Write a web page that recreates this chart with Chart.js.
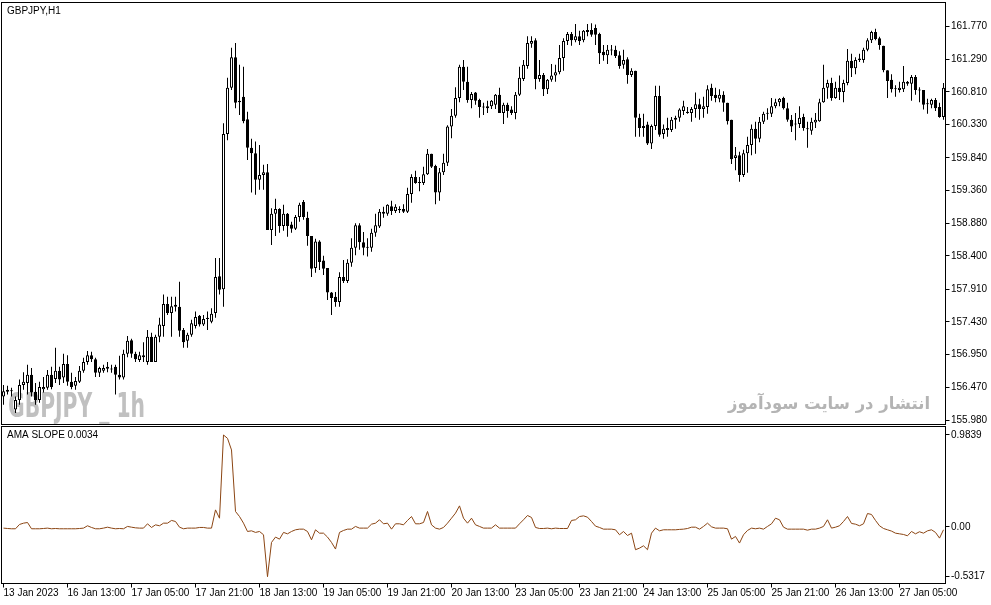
<!DOCTYPE html>
<html>
<head>
<meta charset="utf-8">
<script src="https://cdn.jsdelivr.net/npm/chart.js@4.4.0/dist/chart.umd.min.js"></script>
<style>
  html, body { margin: 0; padding: 0; background: #fff; }
  #wrap { position: relative; width: 991px; height: 605px; overflow: hidden; background: #fff; }
  #wrap canvas { position: absolute; left: 0; }
  #main { top: 0; }
  #sub { top: 424px; }
</style>
</head>
<body>
<div id="wrap">
  <canvas id="main" width="991" height="426" style="width:991px;height:426px"></canvas>
  <canvas id="sub" width="991" height="181" style="width:991px;height:181px"></canvas>
</div>
<script>
// GBPJPY H1, 13 Jan 2023 - 27 Jan 2023, one entry per hourly bar
const timeLabels = ["13 Jan 2023", "16 Jan 13:00", "17 Jan 05:00", "17 Jan 21:00", "18 Jan 13:00",
  "19 Jan 05:00", "19 Jan 21:00", "20 Jan 13:00", "23 Jan 05:00", "23 Jan 21:00", "24 Jan 13:00",
  "25 Jan 05:00", "25 Jan 21:00", "26 Jan 13:00", "27 Jan 05:00"];
const barsPerLabel = 16;

const priceTicks = [161.770, 161.290, 160.810, 160.330, 159.840, 159.360, 158.880, 158.400,
  157.910, 157.430, 156.950, 156.470, 155.980];
const slopeTicks = [0.9839, 0, -0.5317];
const slopeTickLabels = ["0.9839", "0.00", "-0.5317"];

const openP = [
  156.33, 156.40, 156.41, 156.14, 156.28, 156.50, 156.53, 156.65, 156.40, 156.28,
  156.44, 156.46, 156.65, 156.59, 156.71, 156.61, 156.81, 156.55, 156.49, 156.55,
  156.71, 156.84, 156.94, 156.88, 156.68, 156.71, 156.74, 156.74, 156.77, 156.65,
  156.61, 156.96, 157.16, 156.96, 156.87, 156.94, 156.84, 157.21, 156.84, 157.21,
  157.37, 157.69, 157.56, 157.68, 157.65, 157.31, 157.15, 157.24, 157.37, 157.52,
  157.39, 157.47, 157.43, 157.56, 158.10, 157.91, 160.19, 160.87, 161.32, 160.68,
  160.74, 160.41, 159.99, 159.91, 159.52, 159.59, 159.63, 158.78, 159.02, 159.09,
  158.84, 159.02, 158.86, 158.80, 158.97, 159.19, 158.96, 158.69, 158.22, 158.61,
  158.33, 158.22, 157.86, 157.80, 157.72, 158.09, 158.03, 158.30, 158.52, 158.85,
  158.60, 158.52, 158.52, 158.74, 158.83, 159.05, 159.02, 159.13, 159.06, 159.09,
  159.09, 159.05, 159.31, 159.56, 159.47, 159.47, 159.60, 159.90, 159.72, 159.33,
  159.63, 159.77, 160.30, 160.46, 160.72, 161.18, 160.96, 160.69, 160.80, 160.69,
  160.59, 160.60, 160.60, 160.62, 160.77, 160.50, 160.62, 160.55, 160.50, 160.77,
  161.00, 161.19, 161.52, 161.57, 161.00, 161.06, 160.85, 160.99, 161.05, 161.10,
  161.31, 161.56, 161.66, 161.57, 161.63, 161.57, 161.69, 161.72, 161.75, 161.66,
  161.40, 161.35, 161.43, 161.43, 161.35, 161.21, 161.29, 161.06, 161.12, 160.43,
  160.31, 160.33, 160.05, 160.31, 160.75, 160.19, 160.25, 160.25, 160.40, 160.43,
  160.53, 160.52, 160.50, 160.56, 160.63, 160.56, 160.59, 160.87, 160.77, 160.71,
  160.77, 160.65, 160.40, 159.84, 159.88, 159.59, 159.91, 160.03, 160.27, 160.12,
  160.37, 160.49, 160.49, 160.60, 160.66, 160.72, 160.57, 160.40, 160.33, 160.34,
  160.44, 160.27, 160.24, 160.36, 160.38, 160.66, 160.87, 160.94, 160.72, 160.87,
  160.81, 160.94, 161.27, 161.16, 161.30, 161.28, 161.43, 161.57, 161.69, 161.60,
  161.49, 161.13, 160.99, 160.85, 160.84, 160.85, 160.96, 160.93, 161.03, 160.84,
  160.84, 160.63, 160.62, 160.69, 160.59, 160.44
];
const highP = [
  156.50, 156.49, 156.46, 156.33, 156.58, 156.69, 156.80, 156.75, 156.53, 156.55,
  156.62, 156.72, 156.77, 157.05, 156.77, 156.96, 156.94, 156.68, 156.62, 156.78,
  156.90, 157.00, 156.99, 156.90, 156.77, 156.80, 156.84, 156.80, 156.80, 156.93,
  157.02, 157.22, 157.18, 156.99, 156.99, 157.13, 157.31, 157.27, 157.24, 157.49,
  157.83, 157.80, 157.80, 157.80, 158.02, 157.34, 157.27, 157.46, 157.58, 157.53,
  157.53, 157.58, 157.63, 158.37, 158.37, 160.35, 161.02, 161.46, 161.53, 161.21,
  161.18, 160.52, 160.12, 160.08, 160.03, 159.74, 159.75, 159.10, 159.24, 159.10,
  159.15, 159.03, 158.90, 159.00, 159.18, 159.22, 159.05, 158.69, 158.65, 158.63,
  158.40, 158.22, 157.87, 157.87, 158.16, 158.34, 158.35, 158.66, 158.88, 158.88,
  158.75, 158.66, 158.80, 159.02, 159.09, 159.12, 159.16, 159.21, 159.16, 159.13,
  159.16, 159.40, 159.60, 159.65, 159.56, 159.71, 159.97, 159.90, 159.74, 159.69,
  159.90, 160.32, 160.56, 160.88, 161.21, 161.28, 161.18, 160.81, 160.81, 160.71,
  160.65, 160.68, 160.69, 160.78, 160.87, 160.65, 160.65, 160.60, 160.81, 161.18,
  161.28, 161.63, 161.63, 161.60, 161.28, 161.09, 161.00, 161.22, 161.21, 161.50,
  161.60, 161.69, 161.69, 161.81, 161.71, 161.72, 161.81, 161.82, 161.80, 161.68,
  161.50, 161.50, 161.50, 161.49, 161.41, 161.43, 161.32, 161.16, 161.12, 160.49,
  160.49, 160.37, 160.33, 160.90, 160.90, 160.33, 160.43, 160.44, 160.46, 160.57,
  160.68, 160.59, 160.59, 160.80, 160.71, 160.74, 160.91, 160.93, 160.87, 160.85,
  160.82, 160.65, 160.40, 160.00, 159.93, 159.96, 160.15, 160.33, 160.37, 160.44,
  160.52, 160.57, 160.72, 160.71, 160.72, 160.74, 160.65, 160.47, 160.50, 160.60,
  160.49, 160.37, 160.43, 160.50, 160.71, 161.21, 160.99, 161.02, 160.96, 161.05,
  160.99, 161.44, 161.37, 161.32, 161.37, 161.46, 161.60, 161.71, 161.74, 161.62,
  161.49, 161.13, 161.07, 160.91, 160.96, 161.19, 160.97, 161.06, 161.06, 160.88,
  160.84, 160.71, 160.71, 160.72, 160.65, 160.94
];
const lowP = [
  156.21, 156.36, 156.33, 156.09, 156.21, 156.43, 156.36, 156.33, 156.21, 156.24,
  156.39, 156.43, 156.44, 156.53, 156.50, 156.53, 156.49, 156.44, 156.43, 156.53,
  156.68, 156.80, 156.84, 156.62, 156.62, 156.68, 156.69, 156.68, 156.36, 156.58,
  156.58, 156.91, 156.90, 156.84, 156.84, 156.84, 156.80, 156.84, 156.84, 157.13,
  157.21, 157.53, 157.21, 157.58, 157.21, 157.05, 157.05, 157.21, 157.33, 157.36,
  157.37, 157.31, 157.41, 157.49, 157.83, 157.65, 160.10, 160.84, 160.57, 160.47,
  160.35, 159.81, 159.33, 159.30, 159.37, 159.37, 158.78, 158.56, 158.69, 158.74,
  158.77, 158.68, 158.74, 158.78, 158.90, 158.93, 158.55, 158.09, 158.15, 158.19,
  158.12, 157.75, 157.53, 157.65, 157.65, 158.00, 158.00, 158.24, 158.41, 158.49,
  158.41, 158.39, 158.46, 158.68, 158.81, 158.96, 158.99, 159.00, 159.03, 159.03,
  159.03, 159.03, 159.18, 159.46, 159.35, 159.44, 159.59, 159.69, 159.16, 159.21,
  159.59, 159.72, 160.13, 160.43, 160.66, 160.84, 160.65, 160.57, 160.62, 160.43,
  160.47, 160.50, 160.56, 160.56, 160.50, 160.34, 160.43, 160.47, 160.41, 160.75,
  160.97, 161.15, 161.46, 160.85, 160.96, 160.75, 160.78, 160.96, 160.96, 161.07,
  161.12, 161.50, 161.49, 161.54, 161.50, 161.54, 161.63, 161.62, 161.50, 161.22,
  161.27, 161.22, 161.35, 161.31, 161.15, 161.15, 160.93, 161.03, 160.15, 160.15,
  160.15, 160.03, 159.97, 160.25, 160.15, 160.12, 160.15, 160.22, 160.27, 160.37,
  160.47, 160.49, 160.37, 160.43, 160.40, 160.43, 160.49, 160.68, 160.66, 160.66,
  160.52, 160.33, 159.75, 159.66, 159.49, 159.56, 159.62, 159.88, 159.90, 160.07,
  160.34, 160.40, 160.44, 160.57, 160.60, 160.55, 160.37, 160.22, 160.10, 160.28,
  160.24, 159.99, 160.18, 160.28, 160.37, 160.65, 160.71, 160.68, 160.71, 160.69,
  160.66, 160.91, 161.03, 161.07, 161.25, 161.24, 161.41, 161.53, 161.57, 161.43,
  161.10, 160.72, 160.80, 160.74, 160.80, 160.81, 160.90, 160.68, 160.77, 160.66,
  160.55, 160.49, 160.57, 160.53, 160.43, 160.40
];
const closeP = [
  156.41, 156.43, 156.42, 156.28, 156.50, 156.55, 156.65, 156.39, 156.28, 156.47,
  156.47, 156.65, 156.47, 156.71, 156.58, 156.81, 156.55, 156.47, 156.56, 156.71,
  156.84, 156.94, 156.88, 156.68, 156.75, 156.75, 156.77, 156.73, 156.65, 156.61,
  156.96, 157.15, 156.96, 156.88, 156.94, 156.91, 157.21, 156.84, 157.21, 157.39,
  157.69, 157.56, 157.66, 157.65, 157.30, 157.13, 157.24, 157.41, 157.50, 157.39,
  157.47, 157.49, 157.55, 158.09, 157.90, 160.19, 160.87, 161.32, 160.65, 160.66,
  160.38, 159.99, 159.91, 159.52, 159.59, 159.63, 158.78, 159.02, 159.09, 158.84,
  159.02, 158.84, 158.80, 158.97, 159.15, 158.97, 158.69, 158.21, 158.61, 158.31,
  158.21, 157.86, 157.78, 157.72, 158.09, 158.03, 158.30, 158.52, 158.85, 158.60,
  158.52, 158.53, 158.74, 158.85, 159.05, 159.02, 159.15, 159.06, 159.12, 159.07,
  159.05, 159.31, 159.56, 159.47, 159.48, 159.60, 159.90, 159.71, 159.33, 159.63,
  159.77, 160.30, 160.46, 160.72, 161.18, 160.96, 160.69, 160.78, 160.68, 160.59,
  160.58, 160.57, 160.68, 160.77, 160.50, 160.62, 160.53, 160.50, 160.77, 161.02,
  161.21, 161.53, 161.56, 161.00, 161.06, 160.85, 160.99, 161.05, 161.10, 161.31,
  161.56, 161.66, 161.57, 161.63, 161.56, 161.71, 161.72, 161.65, 161.65, 161.38,
  161.35, 161.43, 161.42, 161.34, 161.19, 161.28, 161.06, 161.12, 160.43, 160.28,
  160.28, 160.05, 160.31, 160.75, 160.18, 160.27, 160.28, 160.40, 160.43, 160.55,
  160.60, 160.50, 160.56, 160.63, 160.56, 160.60, 160.85, 160.75, 160.72, 160.77,
  160.65, 160.38, 159.82, 159.88, 159.59, 159.91, 160.03, 160.27, 160.12, 160.37,
  160.49, 160.50, 160.60, 160.66, 160.71, 160.57, 160.40, 160.30, 160.34, 160.43,
  160.28, 160.26, 160.37, 160.40, 160.66, 160.87, 160.94, 160.72, 160.87, 160.81,
  160.94, 161.27, 161.16, 161.28, 161.28, 161.43, 161.57, 161.69, 161.59, 161.50,
  161.13, 160.97, 160.85, 160.86, 160.87, 160.96, 160.93, 161.03, 160.84, 160.83,
  160.62, 160.64, 160.69, 160.57, 160.44, 160.87
];
const amaSlope = [
  -0.012, -0.016, -0.019, -0.019, 0.027, 0.041, 0.048, -0.019, -0.019, -0.019,
  -0.016, -0.012, -0.019, -0.016, -0.019, -0.019, -0.019, -0.019, -0.019, -0.016,
  -0.012, 0.013, -0.005, -0.019, -0.019, -0.012, -0.002, -0.012, -0.019, -0.016,
  -0.019, 0.006, -0.002, -0.009, -0.012, -0.012, 0.034, -0.005, 0.023, 0.013,
  0.041, 0.041, 0.070, 0.059, -0.002, -0.019, -0.012, -0.012, -0.012, -0.005,
  -0.005, -0.012, -0.012, 0.183, 0.094, 0.9839, 0.948, 0.824, 0.166, 0.112,
  0.041, -0.048, -0.041, -0.058, -0.048, -0.083, -0.5317, -0.165, -0.108, -0.130,
  -0.058, -0.073, -0.048, -0.030, -0.023, -0.023, -0.048, -0.137, -0.030, -0.066,
  -0.066, -0.108, -0.165, -0.236, -0.058, -0.037, -0.023, -0.023, 0.006, -0.012,
  -0.012, -0.012, 0.030, 0.041, 0.077, 0.034, 0.041, -0.023, 0.034, 0.034,
  0.023, 0.070, 0.112, 0.034, 0.034, 0.048, 0.166, 0.023, -0.012, -0.023,
  -0.005, 0.041, 0.094, 0.148, 0.226, 0.094, 0.041, 0.094, 0.023, 0.006,
  -0.012, -0.012, -0.012, 0.023, -0.012, -0.012, -0.012, -0.012, -0.012, 0.034,
  0.077, 0.123, 0.102, -0.005, -0.016, -0.016, -0.012, -0.019, -0.012, -0.016,
  -0.016, -0.016, 0.070, 0.077, 0.112, 0.119, 0.105, 0.059, 0.009, -0.005,
  -0.023, -0.023, -0.023, -0.030, -0.083, -0.048, -0.091, -0.066, -0.243, -0.226,
  -0.201, -0.243, -0.066, -0.012, -0.041, -0.030, -0.030, -0.030, -0.030, -0.026,
  -0.023, -0.016, -0.002, -0.002, -0.023, 0.006, 0.041, 0.002, -0.012, -0.012,
  -0.012, -0.019, -0.130, -0.101, -0.172, -0.083, -0.037, -0.012, -0.019, -0.012,
  -0.023, 0.006, 0.034, 0.094, 0.077, -0.002, -0.023, -0.023, -0.023, -0.023,
  -0.023, -0.034, -0.023, -0.023, -0.012, 0.006, 0.077, -0.012, -0.002, 0.013,
  0.059, 0.112, 0.038, 0.030, 0.013, 0.034, 0.144, 0.134, 0.070, 0.013,
  -0.016, -0.030, -0.044, -0.066, -0.073, -0.080, -0.094, -0.048, -0.073, -0.051,
  -0.066, -0.041, -0.030, -0.058, -0.119, -0.030
];

const barIndex = closeP.map((_, i) => i);
const isUp = closeP.map((c, i) => c >= openP[i]);

const FONT = { family: '"Liberation Sans", Arial, sans-serif', size: 10 };
const AXIS_W = 45.5;

// black box round each panel, like the terminal draws it
const frame = {
  id: "frame",
  afterDraw(chart) {
    const { ctx, chartArea: a } = chart;
    ctx.save();
    ctx.strokeStyle = "#000";
    ctx.lineWidth = 1;
    ctx.strokeRect(a.left, a.top, a.right - a.left, a.bottom - a.top);
    ctx.restore();
  },
};

function caption(text) {
  return {
    id: "caption",
    afterDraw(chart) {
      const ctx = chart.ctx;
      ctx.save();
      ctx.font = `${FONT.size}px ${FONT.family}`;
      ctx.fillStyle = "#000";
      ctx.textBaseline = "middle";
      ctx.textAlign = "left";
      ctx.fillText(text, 7, 11);
      ctx.restore();
    },
  };
}

function fitText(ctx, text, font, color, x, y, w) {
  ctx.save();
  ctx.font = font;
  ctx.fillStyle = color;
  ctx.textAlign = "left";
  ctx.textBaseline = "alphabetic";
  const sx = w / ctx.measureText(text).width;
  ctx.translate(x, y);
  ctx.scale(sx, 1);
  ctx.fillText(text, 0, 0);
  ctx.restore();
}

const watermark = {
  id: "watermark",
  beforeDatasetsDraw(chart) {
    const ctx = chart.ctx;
    fitText(ctx, "GBPJPY _ 1h", 'bold 34px "Liberation Sans Narrow", "DejaVu Sans Condensed", sans-serif', "#c0c0c0", 8, 417, 137);
    fitText(ctx, "انتشار در سایت سودآموز", 'bold 17px "DejaVu Sans", sans-serif', "#b4b4b4", 728, 409, 202);
  },
};

function fitYAxis(scale) {
  scale.width = AXIS_W;
  scale.paddingTop = 0;
  scale.paddingBottom = 0;
}

const yGrid = { drawOnChartArea: false, drawTicks: true, tickLength: 4, color: "#000" };

new Chart(document.getElementById("main"), {
  type: "bar",
  data: {
    labels: barIndex,
    datasets: [
      {
        label: "wick",
        data: barIndex.map((i) => [lowP[i], highP[i]]),
        backgroundColor: "#000",
        borderWidth: 0,
        barThickness: 1,
        minBarLength: 1,
        inflateAmount: 0,
        grouped: false,
        order: 2,
      },
      {
        label: "body",
        data: barIndex.map((i) => [openP[i], closeP[i]]),
        backgroundColor: isUp.map((u) => (u ? "#fff" : "#000")),
        borderColor: "#000",
        borderWidth: 1,
        borderSkipped: false,
        barThickness: 3,
        minBarLength: 1,
        inflateAmount: 0,
        grouped: false,
        order: 1,
      },
    ],
  },
  options: {
    responsive: false,
    animation: false,
    devicePixelRatio: 1,
    layout: { padding: { left: 1.5, top: 2.5, right: 0, bottom: 1.5 } },
    plugins: { legend: { display: false }, tooltip: { enabled: false } },
    scales: {
      x: { display: false, offset: true },
      y: {
        position: "right",
        min: 155.92,
        max: 162.125,
        afterBuildTicks: (s) => { s.ticks = priceTicks.map((v) => ({ value: v })); },
        afterFit: fitYAxis,
        ticks: { callback: (v) => v.toFixed(3), font: FONT, color: "#000", padding: 1.5 },
        grid: yGrid,
        border: { display: false },
      },
    },
  },
  plugins: [watermark, frame, caption("GBPJPY,H1")],
});

new Chart(document.getElementById("sub"), {
  type: "line",
  data: {
    labels: barIndex,
    datasets: [
      {
        label: "AMA SLOPE",
        data: amaSlope,
        borderColor: "#8b4513",
        borderWidth: 1,
        pointRadius: 0,
        tension: 0,
        fill: false,
      },
    ],
  },
  options: {
    responsive: false,
    animation: false,
    devicePixelRatio: 1,
    layout: { padding: { left: 1.5, top: 2.5, right: 0, bottom: 0 } },
    plugins: { legend: { display: false }, tooltip: { enabled: false } },
    scales: {
      x: {
        type: "category",
        offset: true,
        afterFit: (s) => { s.height = 21.5; s.paddingLeft = 0; s.paddingRight = 0; },
        ticks: {
          autoSkip: false,
          maxRotation: 0,
          align: "start",
          padding: 0,
          font: FONT,
          color: "#000",
          callback: (v, i) => (i % barsPerLabel === 0 ? timeLabels[i / barsPerLabel] : ""),
        },
        grid: {
          offset: false,
          drawOnChartArea: false,
          drawTicks: true,
          tickLength: 4,
          color: (c) => (c.index % barsPerLabel === 0 ? "#000" : "rgba(0,0,0,0)"),
        },
        border: { display: false },
      },
      y: {
        position: "right",
        min: -0.6044,
        max: 1.0748,
        afterBuildTicks: (s) => { s.ticks = slopeTicks.map((v) => ({ value: v })); },
        afterFit: fitYAxis,
        ticks: { callback: (v, i) => slopeTickLabels[i], font: FONT, color: "#000", padding: 1.5 },
        grid: yGrid,
        border: { display: false },
      },
    },
  },
  plugins: [frame, caption("AMA SLOPE 0.0034")],
});
</script>
</body>
</html>
